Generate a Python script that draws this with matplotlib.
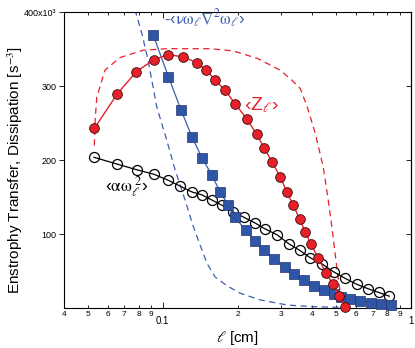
import numpy as np
import matplotlib
matplotlib.use("Agg")
import matplotlib.pyplot as plt

plt.rcParams['font.family'] = ['Liberation Sans', 'DejaVu Sans']
plt.rcParams['mathtext.fontset'] = 'stix'

# -- data --
# <Z_l> : red filled circles
z_ell = [0.053, 0.0656, 0.0783, 0.092, 0.105, 0.121, 0.137, 0.150, 0.163, 0.178,
         0.196, 0.218, 0.239, 0.256, 0.276, 0.297, 0.316, 0.336, 0.356, 0.375,
         0.396, 0.422, 0.454, 0.485, 0.514, 0.544]
z_val = [243, 290, 320, 336, 343, 340, 332, 322, 308, 295,
         276, 256, 235, 217, 197, 178, 157, 139, 120, 103,
         86, 68, 48, 32, 16, 1]

# -<nu w_l lap w_l> : blue squares
nu_ell = [0.0914, 0.1054, 0.1185, 0.1309, 0.144, 0.1576, 0.1702, 0.1839, 0.1957, 0.2157,
          0.2356, 0.2562, 0.2811, 0.3093, 0.3384, 0.3695, 0.408, 0.445, 0.488, 0.524,
          0.567, 0.624, 0.689, 0.759, 0.833]
nu_val = [370, 313, 268, 232, 203, 180, 157, 139, 123, 105,
          91, 79, 66, 55, 46, 38, 30, 25, 19, 15,
          12.6, 9.2, 7.4, 5.7, 4]

# <alpha w_l^2> : black open circles
al_ell = [0.0528, 0.0652, 0.0788, 0.0922, 0.105, 0.1174, 0.1313, 0.144, 0.1581, 0.1734,
          0.1921, 0.2117, 0.2356, 0.2586, 0.289, 0.3216, 0.3562, 0.3926, 0.4369, 0.4876,
          0.5436, 0.6057, 0.6728, 0.7417, 0.8177]
al_val = [204, 195, 187, 181, 173, 165, 157, 153, 146, 139,
          130, 123, 115, 107, 99, 87, 78, 68, 60, 49,
          40, 32, 26, 21, 16]

# red dashed curve
zd_ell = [0.053, 0.0534, 0.0542, 0.0585, 0.0673, 0.0833, 0.104, 0.155, 0.192, 0.240,
          0.297, 0.332, 0.358, 0.382, 0.411, 0.443, 0.464, 0.482, 0.504, 0.519]
zd_val = [220, 254, 285, 322, 339, 349, 351, 351, 348, 338,
          322, 308, 297, 272, 237, 191, 146, 105, 51, 20]

# blue dashed curve
nd_ell = [0.0765, 0.078, 0.0823, 0.0873, 0.0946, 0.1038, 0.1121, 0.123, 0.1325, 0.1414,
          0.1509, 0.1625, 0.1817, 0.205, 0.2468, 0.3173, 0.4037, 0.519]
nd_val = [420, 399, 372, 335, 272, 227, 187, 146, 111, 85,
          60, 42, 30, 20, 11, 4, 1.8, 0.9]

x_major = [0.1, 1.0]
x_major_labels = ['0.1', '1']
x_minor = [0.04, 0.05, 0.06, 0.07, 0.08, 0.09, 0.2, 0.3, 0.4, 0.5, 0.6, 0.7, 0.8, 0.9]
x_minor_labels = ['4', '5', '6', '7', '8', '9', '2', '3', '4', '5', '6', '7', '8', '9']
y_ticks = [100, 200, 300, 400]
y_tick_labels = ['100', '200', '300', '400x10³']

red = '#e8202a'
blue = '#2f56a6'
blue_line = '#3c5fb0'

fig = plt.figure(figsize=(4.15, 3.48), dpi=100)
ax = fig.add_axes([0.1542, 0.1149, 0.8362, 0.8492])

ax.plot(zd_ell, zd_val, color=red, lw=0.9, dashes=(5, 3.5))
ax.plot(nd_ell, nd_val, color=blue_line, lw=0.9, dashes=(5, 3.5))

ax.plot(al_ell, al_val, color='black', lw=0.9, marker='o', ms=7.2,
        mfc='none', mec='black', mew=0.9, clip_on=False, zorder=3)
ax.plot(nu_ell, nu_val, color=blue_line, lw=0.9, marker='s', ms=6.6,
        mfc=blue, mec='#24346a', mew=0.5, clip_on=False, zorder=4)
ax.plot(z_ell, z_val, color=red, lw=1.0, marker='o', ms=7.0,
        mfc=red, mec='#3a1010', mew=0.6, clip_on=False, zorder=5)

ax.set_xscale('log')
ax.set_xlim(0.04, 1.0)
ax.set_ylim(0, 400)

ax.set_xticks(x_major)
ax.set_xticklabels(x_major_labels, fontsize=7)
ax.set_xticks(x_minor, minor=True)
ax.set_xticklabels(x_minor_labels, minor=True, fontsize=6)
ax.tick_params(axis='x', which='major', direction='in', length=4.5, width=0.6,
               top=True, pad=6)
ax.tick_params(axis='x', which='minor', direction='in', length=2.5, width=0.6,
               top=True, pad=2)

ax.set_yticks(y_ticks)
ax.set_yticklabels(y_tick_labels, fontsize=6.5)
ax.yaxis.set_minor_locator(matplotlib.ticker.NullLocator())
ax.tick_params(axis='y', direction='out', length=3.5, width=0.6, pad=2)

sec = ax.secondary_yaxis('right')
sec.set_yticks([100, 200, 300])
sec.set_yticklabels([])
sec.tick_params(direction='in', length=3.5, width=0.6)

for s in ax.spines.values():
    s.set_linewidth(0.8)
sec.spines['right'].set_linewidth(0.8)

ax.set_ylabel('Enstrophy Transfer, Dissipation [s$^{-3}$]', fontsize=11)
ax.yaxis.set_label_coords(-0.112, 0.467)
ax.set_xlabel(r'$\ell$ [cm]', fontsize=11, labelpad=2)

ax.text(0.101, 391, '-‹' + r'$\mathrm{\nu\omega}_\ell\nabla^2\mathrm{\omega}_\ell$' + '›',
        color=blue_line, fontsize=12, ha='left', va='center')
ax.text(0.251, 275, '‹Z' + r'$_\ell$' + '›', color=red, fontsize=14,
        ha='center', va='center')
ax.text(0.0718, 164, '‹' + r'$\mathrm{\alpha\omega}_\ell^{\ 2}$' + '›', color='black',
        fontsize=12.5, ha='center', va='center')

fig.savefig('out.png', dpi=100)
